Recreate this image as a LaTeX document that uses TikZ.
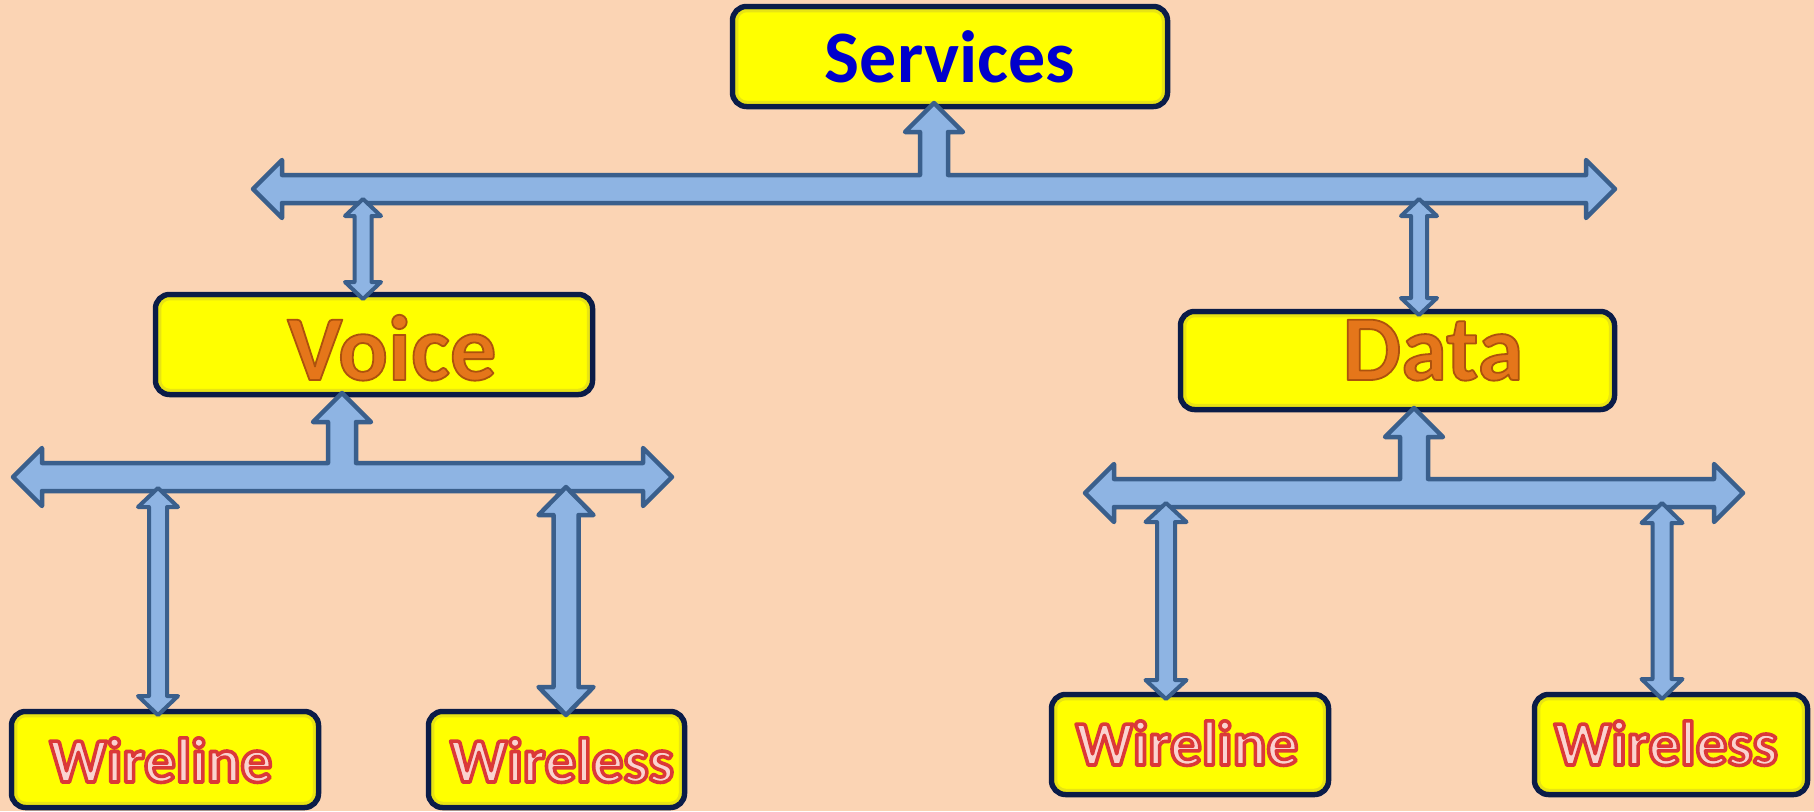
\documentclass[tikz,border=0pt]{standalone}
\usepackage{fontspec}
\setmainfont{Carlito}
\usetikzlibrary{calc}

\definecolor{bg}{HTML}{FBD4B4}
\definecolor{boxfill}{HTML}{FFFF00}
\definecolor{boxedge}{HTML}{0A1C48}
\definecolor{arrowfill}{HTML}{8EB4E3}
\definecolor{arrowedge}{HTML}{3A5F8C}
\definecolor{svcblue}{HTML}{0000CC}
\definecolor{orangeMain}{HTML}{E5761A}
\definecolor{outlinePink}{HTML}{FAD3D0}

\tikzset{
  box/.style={draw=boxedge, line width=5.5pt, fill=boxfill, rounded corners=14pt, inner sep=0pt},
  bevel/.style={draw=yellow!78!black, line width=3pt, rounded corners=10pt, opacity=0.45},
  blockarrow/.style={draw=arrowedge, fill=arrowfill, line width=4.5pt, line join=round},
  thinarrow/.style={blockarrow, line width=4pt},
  svctext/.style={font=\fontsize{74}{80}\selectfont\bfseries, text=svcblue, anchor=base, inner sep=0pt},
  bigtext/.style={font=\fontsize{93}{100}\selectfont\bfseries, anchor=base, inner sep=0pt},
  leaftext/.style={font=\fontsize{63}{70}\selectfont\bfseries, anchor=base, inner sep=0pt},
}

% glyphs filled in colour #1 and stroked with rgb #2 at width #3
\newcommand\strokedtext[4]{{\color{#1}%
  \special{pdf:literal direct #2 RG 2 Tr #3 w 1 j}#4\special{pdf:literal direct 0 Tr}}}
% orange heading word with a darker rim
\newcommand\headword[1]{\strokedtext{orangeMain}{0.68 0.32 0.05}{1.8}{#1}}
% pink word with a red rim
\newcommand\leafword[1]{\strokedtext{outlinePink}{0.86 0.22 0.22}{3.6}{#1}}

% inner shading ring of a box
\newcommand\bevelring[1]{\draw[bevel] ($(#1.north west)+(7,7)$) rectangle ($(#1.south east)+(-7,-7)$);}

% horizontal double-headed bar with an upward stem: #1 left tip, #2 right tip, #3 stem tip
\newcommand\teebar[3]{%
  \draw[blockarrow] (#1) -- ($(#1)+(29,-29)$) -- ($(#1)+(29,-14)$)
    -- ($(#3|-#1)+(-14,-14)$) -- ($(#3)+(-14,29)$) -- ($(#3)+(-29,29)$) -- (#3)
    -- ($(#3)+(29,29)$) -- ($(#3)+(14,29)$) -- ($(#3|-#1)+(14,-14)$)
    -- ($(#2)+(-29,-14)$) -- ($(#2)+(-29,-29)$) -- (#2) -- ($(#2)+(-29,29)$)
    -- ($(#2)+(-29,14)$) -- ($(#1)+(29,14)$) -- ($(#1)+(29,29)$) -- cycle;}

% vertical double-headed arrow: #2 top tip, #3 bottom tip, #4 shaft half width,
% #5 head half width, #6 head length
\newcommand\linkarrow[6]{%
  \draw[#1] (#2) -- ($(#2)+(#5,#6)$) -- ($(#2)+(#4,#6)$) -- ($(#3)+(#4,-#6)$)
    -- ($(#3)+(#5,-#6)$) -- (#3) -- ($(#3)+(-#5,-#6)$) -- ($(#3)+(-#4,-#6)$)
    -- ($(#2)+(-#4,#6)$) -- ($(#2)+(-#5,#6)$) -- cycle;}

\begin{document}
\begin{tikzpicture}[x=1pt,y=-1pt]
  \fill[bg] (0,0) rectangle (1814,811);
  \useasboundingbox (0,0) rectangle (1814,811);

  % boxes
  \node[box, minimum width=435pt, minimum height=100pt] (services) at (950,56.5) {};
  \node[box, minimum width=437pt, minimum height=100pt] (voice) at (374,344.5) {};
  \node[box, minimum width=434pt, minimum height=98pt] (data) at (1397.5,360.5) {};
  \node[box, minimum width=307pt, minimum height=96pt] (vwireline) at (165,759.5) {};
  \node[box, minimum width=256pt, minimum height=96pt] (vwireless) at (556.5,759.5) {};
  \node[box, minimum width=277pt, minimum height=100pt] (dwireline) at (1190,744.5) {};
  \node[box, minimum width=273pt, minimum height=100pt] (dwireless) at (1671,744.5) {};
  \foreach \b in {services,voice,data,vwireline,vwireless,dwireline,dwireless} {\bevelring{\b}}

  % bar end points and stem tips
  \coordinate (top-l) at (253,189);
  \coordinate (top-r) at (1615,189);
  \coordinate (top-s) at (934,103);
  \coordinate (voice-l) at (13,477);
  \coordinate (voice-r) at (672,477);
  \coordinate (voice-s) at (342,393);
  \coordinate (data-l) at (1085,493);
  \coordinate (data-r) at (1743,493);
  \coordinate (data-s) at (1414,408);

  \teebar{top-l}{top-r}{top-s}
  \teebar{voice-l}{voice-r}{voice-s}
  \teebar{data-l}{data-r}{data-s}

  % link end points
  \coordinate (vlink-a) at (363,199);
  \coordinate (vlink-b) at (363,299);
  \coordinate (dlink-a) at (1419,199);
  \coordinate (dlink-b) at (1419,315);
  \coordinate (vwl-a) at (158,488);
  \coordinate (vwl-b) at (158,715);
  \coordinate (vws-a) at (566,487);
  \coordinate (vws-b) at (566,715);
  \coordinate (dwl-a) at (1166,503);
  \coordinate (dwl-b) at (1166,699);
  \coordinate (dws-a) at (1662,503);
  \coordinate (dws-b) at (1662,699);

  \linkarrow{thinarrow}{vlink-a}{vlink-b}{8.5}{18}{17}
  \linkarrow{thinarrow}{dlink-a}{dlink-b}{8}{18}{17}
  \linkarrow{thinarrow}{vwl-a}{vwl-b}{9}{20}{19}
  \linkarrow{blockarrow}{vws-a}{vws-b}{12.5}{27.5}{28}
  \linkarrow{thinarrow}{dwl-a}{dwl-b}{9}{20.5}{19}
  \linkarrow{thinarrow}{dws-a}{dws-b}{9.5}{20.5}{20}

  % labels
  \node[svctext] (services-t) at (950,82) {Services};
  \node[bigtext] (voice-t) at (392,380) {\headword{Voice}};
  \node[bigtext] (data-t) at (1433,380) {\headword{Data}};
  \node[leaftext] (vwireline-t) at (161,782) {\leafword{Wireline}};
  \node[leaftext] (vwireless-t) at (562,782) {\leafword{Wireless}};
  \node[leaftext] (dwireline-t) at (1187,765) {\leafword{Wireline}};
  \node[leaftext] (dwireless-t) at (1666,765) {\leafword{Wireless}};
\end{tikzpicture}
\end{document}
